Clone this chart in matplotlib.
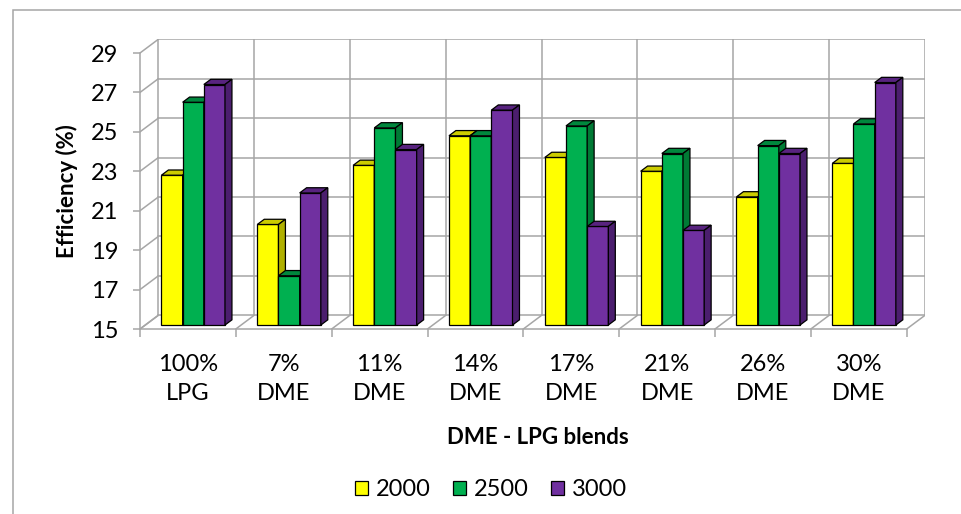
import matplotlib
matplotlib.use("Agg")
import matplotlib.pyplot as plt
from matplotlib.patches import Polygon, Patch, Rectangle

plt.rcParams['font.family'] = ['Lato', 'DejaVu Sans']

categories = ['100%\nLPG', '7%\nDME', '11%\nDME', '14%\nDME',
              '17%\nDME', '21%\nDME', '26%\nDME', '30%\nDME']
series_names = ['2000', '2500', '3000']
eff_2000 = [22.6, 20.1, 23.1, 24.6, 23.5, 22.8, 21.5, 23.2]
eff_2500 = [26.3, 17.5, 25.0, 24.6, 25.1, 23.7, 24.1, 25.2]
eff_3000 = [27.2, 21.7, 23.9, 25.9, 20.0, 19.8, 23.7, 27.3]
yticks = [15, 17, 19, 21, 23, 25, 27, 29]

front_cols = ['#FFFF00', '#00B050', '#7030A0']
top_cols = ['#CCCC00', '#00873D', '#58237F']
side_cols = ['#B0B000', '#007A35', '#4B1E6E']
grid_col = '#A6A6A6'
FS = 17
FS_TITLE = 16

# oblique depth of the floor/walls, in data units
DX = 0.191
DY = 0.695
# bars sit a little behind the front edge and are fairly thin
bar_front = 0.29
bar_depth = 0.38
w = 0.221

W, H = 962, 514
fig = plt.figure(figsize=(W / 100, H / 100), dpi=100)
ax = fig.add_axes([140 / W, 1 - 329 / H, 785 / W, (329 - 39.3) / H])
n = len(categories)
ymin, ymax = yticks[0], yticks[-1]
ax.set_xlim(-0.5, n - 0.5 + DX)
ax.set_ylim(ymin, ymax + DY)

# back wall, side wall and floor lines
for v in yticks:
    ax.plot([-0.5 + DX, n - 0.5 + DX], [v + DY, v + DY], color=grid_col, lw=1.1, zorder=1)
    ax.plot([-0.5, -0.5 + DX], [v, v + DY], color=grid_col, lw=1.1, zorder=1)
for k in range(n + 1):
    xb = k - 0.5
    ax.plot([xb + DX, xb + DX], [ymin + DY, ymax + DY], color=grid_col, lw=1.1, zorder=1)
    ax.plot([xb, xb + DX], [ymin, ymin + DY], color=grid_col, lw=1.1, zorder=1)

# bars: front face, top and right side
all_vals = [eff_2000, eff_2500, eff_3000]
ddx, ddy = bar_depth * DX, bar_depth * DY
z = 3
for i in range(n):
    c = i + bar_front * DX
    for j, vals in enumerate(all_vals):
        x0 = c + (j - 1) * w - w / 2
        x1 = x0 + w
        b = ymin + bar_front * DY
        t = vals[i] + bar_front * DY
        ax.bar(x0, t - b, bottom=b, width=w, align='edge', color=front_cols[j],
               edgecolor='black', lw=0.9, zorder=z)
        ax.add_patch(Polygon([(x0, t), (x1, t), (x1 + ddx, t + ddy), (x0 + ddx, t + ddy)],
                             closed=True, facecolor=top_cols[j], edgecolor='black',
                             lw=0.9, zorder=z + 1))
        ax.add_patch(Polygon([(x1, b), (x1 + ddx, b + ddy), (x1 + ddx, t + ddy), (x1, t)],
                             closed=True, facecolor=side_cols[j], edgecolor='black',
                             lw=0.9, zorder=z + 1))
        z += 2

# axes lines and ticks
for s in ['top', 'right']:
    ax.spines[s].set_visible(False)
ax.spines['left'].set_bounds(ymin, ymax)
ax.spines['bottom'].set_bounds(-0.5, n - 0.5)
for s in ['left', 'bottom']:
    ax.spines[s].set_color(grid_col)
    ax.spines[s].set_linewidth(1.1)
ax.set_yticks(yticks)
ax.set_yticklabels([str(v) for v in yticks])
ax.tick_params(axis='y', direction='out', length=5, width=1.1, color=grid_col,
               labelsize=FS, pad=10.5)
ax.set_xticks([k - 0.5 for k in range(n + 1)])
ax.set_xticklabels([])
ax.tick_params(axis='x', which='major', direction='out', length=6, width=1.1, color=grid_col)
ax.set_xticks(range(n), minor=True)
ax.set_xticklabels(categories, minor=True)
ax.tick_params(axis='x', which='minor', length=0, labelsize=FS, pad=18)
for lbl in ax.get_xticklabels(minor=True):
    lbl.set_linespacing(1.5)

ax.set_ylabel('Efficiency (%)', fontsize=FS_TITLE, fontweight='bold')
ax.yaxis.set_label_coords(-0.079, 0.476)

fig.text(538 / W, 1 - 437 / H, 'DME - LPG blends', fontsize=FS_TITLE, fontweight='bold',
         ha='center', va='center')

handles = [Patch(facecolor=front_cols[j], edgecolor='black', lw=0.9) for j in range(3)]
fig.legend(handles, series_names, loc='center', bbox_to_anchor=(491 / W, 1 - 490 / H),
           ncol=3, frameon=False, fontsize=FS, handlelength=0.55, handleheight=0.55,
           handletextpad=0.34, columnspacing=0.93)

# chart area border
fig.add_artist(Rectangle((13 / W, -0.1), 1.2, 1.1 - 10 / H, transform=fig.transFigure,
                         fill=False, edgecolor=grid_col, lw=1.1))

fig.savefig('out.png', dpi=100)
